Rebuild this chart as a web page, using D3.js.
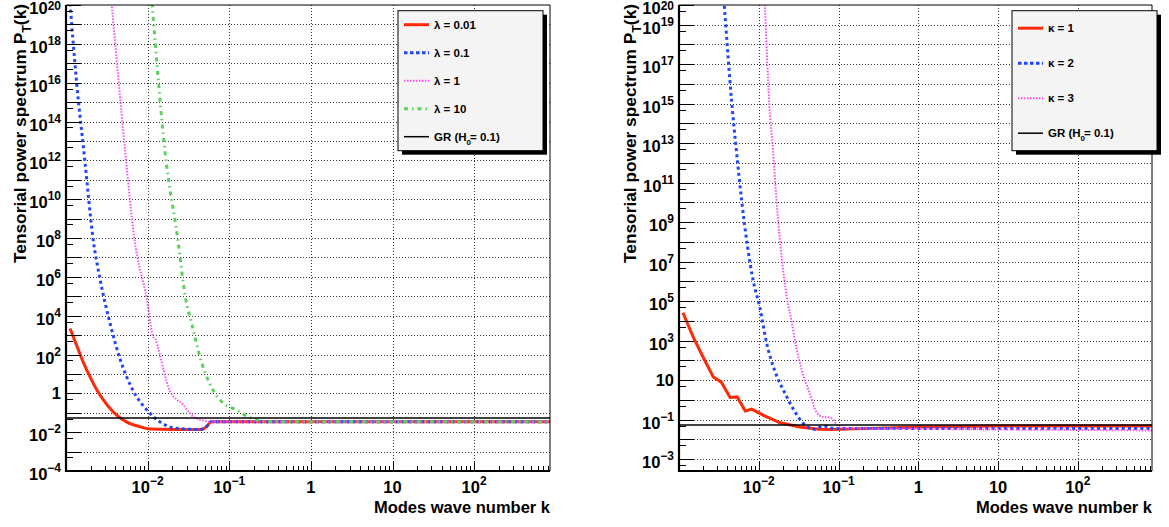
<!DOCTYPE html>
<html><head><meta charset="utf-8">
<script src="https://cdn.jsdelivr.net/npm/d3@7"></script>
<style>
body{margin:0;background:#fff;}
svg text{font-family:"Liberation Sans",Arial,Helvetica,sans-serif;font-weight:bold;fill:#000;}
.grid line{stroke:#333;stroke-width:1;stroke-dasharray:1,2;shape-rendering:crispEdges;}
.tk line{stroke:#000;stroke-width:1;shape-rendering:crispEdges;}
</style></head><body>
<svg id="c" width="1169" height="527"></svg>
<script>
// ---------- data ----------
const kMin = 1e-3, kMax = 850;
const grValue = 0.054;

// Left panel: lambda series
const kLam001 = [0.00112,0.00135,0.00162,0.00197,0.0024,0.00288,0.00347,0.00417,0.0055,0.0081,0.0107,0.02,0.046,0.053,0.06,0.1,1,10,100,850];
const pLam001 = [2200,300,42,7.1,1.45,0.45,0.166,0.076,0.034,0.019,0.0145,0.0138,0.0138,0.02,0.034,0.034,0.034,0.034,0.034,0.034];

const kLam01 = [0.00112,0.00135,0.0017,0.00214,0.00263,0.00347,0.00457,0.0066,0.0098,0.0141,0.0224,0.0437,0.053,0.06,0.1,1,10,100,850];
const pLam01 = [1.2e20,1e16,1e12,1e8,6.6e5,3900,62,1.45,0.138,0.034,0.0158,0.0138,0.02,0.034,0.034,0.034,0.034,0.034,0.034];

const kLam1 = [0.0034,0.00363,0.00527,0.00686,0.00973,0.0102,0.011,0.0117,0.0126,0.0135,0.0186,0.0275,0.0363,0.0479,0.06,0.1,1,10,100,850];
const pLam1 = [2e21,1e20,4e12,1e8,7.8e4,2.5e4,2500,800,560,200,1.45,0.245,0.062,0.04,0.034,0.034,0.034,0.034,0.034,0.034];

const kLam10 = [0.011,0.01138,0.0163,0.0233,0.0292,0.0347,0.0437,0.0575,0.0851,0.123,0.162,0.234,0.36,1,10,100,850];
const pLam10 = [6e20,1e20,3e12,1e8,7.8e4,3900,76,3.2,0.3,0.138,0.069,0.039,0.034,0.034,0.034,0.034,0.034];

// Right panel: kappa series
const kKap1 = [0.00112,0.00151,0.002,0.00269,0.00339,0.00437,0.00537,0.00676,0.00813,0.0115,0.0182,0.0324,0.0575,0.0776,0.158,0.4,1,10,100,850];
const pKap1 = [2.6e4,1510,148,14.5,7.9,1.32,1.41,0.275,0.339,0.166,0.071,0.0427,0.033,0.0316,0.034,0.038,0.0427,0.047,0.047,0.047];

const kKap2 = [0.0035,0.00369,0.00457,0.00525,0.0061,0.00851,0.0103,0.0126,0.0158,0.0214,0.0269,0.0363,0.0501,0.0646,0.079,0.1,1,10,100,850];
const pKap2 = [1.6e21,1e20,1.26e15,4e12,1.26e10,1.1e6,4.9e4,692,31,2.1,0.36,0.063,0.033,0.048,0.038,0.0355,0.0355,0.0355,0.0355,0.0355];

const kKap3 = [0.0113,0.0119,0.0135,0.0151,0.0167,0.0226,0.0257,0.0295,0.0347,0.0437,0.0525,0.0631,0.0794,0.102,0.158,1,10,100,850];
const pKap3 = [1e22,1e20,1.26e15,4e12,1.26e10,1.35e5,1.05e4,468,31,2.1,0.25,0.138,0.126,0.0427,0.0355,0.034,0.0316,0.030,0.0282];

// tick labels
const xTickValues = [1e-2,1e-1,1,10,100];
const xTickExps = [-2,-1,0,1,2];
const leftYLabelExps = [20,18,16,14,12,10,8,6,4,2,0,-2,-4];
const rightYLabelExps = [20,19,17,15,13,11,9,7,5,3,1,-1,-3];

const leftLegend = ["λ = 0.01","λ = 0.1","λ = 1","λ = 10"];
const rightLegend = ["κ = 1","κ = 2","κ = 3"];

// ---------- styles ----------
const styles = {
  red:{color:"#ff2a0a",w:3,dash:null,curve:true},
  blue:{color:"#1f45ff",w:3,dash:"3,3.2",curve:true},
  mag:{color:"#ff4cf0",w:2,dash:"1.5,1.5",curve:true},
  green:{color:"#5fcf5f",w:3,dash:"4,4,1.5,4",curve:true}
};

const svg = d3.select("#c");

function powLabel(g, xp, yp, exp, anchor){
  const t = g.append("text").attr("x",xp).attr("text-anchor",anchor).attr("font-size",16.5);
  if(exp===0){ t.attr("y",yp+6).text("1"); return; }
  if(exp===1){ t.attr("y",yp+6).text("10"); return; }
  const base = yp+9;
  // keep the superscript inside the picture for the topmost label
  const up = Math.min(8, base-10);
  t.attr("y",base).text("10");
  t.append("tspan").attr("dy",-up).attr("font-size",12).text(exp<0?"\u2212"+(-exp):String(exp));
}

function drawPanel(cfg){
  const {x0,x1,y0,y1,yMin,yMax} = cfg;
  const x = d3.scaleLog().domain([kMin,kMax]).range([x0,x1]);
  const y = d3.scaleLog().domain([yMin,yMax]).range([y1,y0]);
  const g = svg.append("g");
  const clipId = "clip"+cfg.id;
  g.append("clipPath").attr("id",clipId).append("rect")
    .attr("x",x0).attr("y",y0).attr("width",x1-x0).attr("height",y1-y0);

  const eMin = Math.ceil(Math.log10(yMin)), eMax = Math.floor(Math.log10(yMax));
  const yDec = d3.range(eMin,eMax+1).map(e=>Math.pow(10,e));
  const yFive = d3.range(eMin-1,eMax).map(e=>5*Math.pow(10,e)).filter(v=>v>yMin&&v<yMax);
  const xDec = [1e-2,1e-1,1,10,100];
  const xMinor = [];
  for(let e=-3;e<=2;e++) for(let m=2;m<=9;m++){const v=m*Math.pow(10,e); if(v<kMax) xMinor.push(v);}

  // grid
  g.append("g").attr("class","grid").attr("transform",`translate(0,${y1})`)
    .call(d3.axisBottom(x).tickValues(xDec).tickSize(-(y1-y0)).tickFormat(""))
    .call(s=>s.select(".domain").remove());
  g.append("g").attr("class","grid").attr("transform",`translate(${x0},0)`)
    .call(d3.axisLeft(y).tickValues(yDec.filter(v=>v<yMax*0.99)).tickSize(-(x1-x0)).tickFormat(""))
    .call(s=>s.select(".domain").remove());

  // series
  const plot = g.append("g").attr("clip-path",`url(#${clipId})`);
  cfg.series.forEach(s=>{
    const st = styles[s.style];
    const line = d3.line().x(d=>x(d[0])).y(d=>y(d[1]));
    if(st.curve && !s.linear) line.curve(d3.curveMonotoneX);
    plot.append("path").datum(d3.zip(s.k,s.p))
      .attr("d",line).attr("fill","none").attr("stroke",st.color)
      .attr("stroke-width",st.w).attr("stroke-dasharray",st.dash);
  });
  // GR
  plot.append("path").datum([[kMin,grValue],[kMax,grValue]])
    .attr("d",d3.line().x(d=>x(d[0])).y(d=>y(d[1])))
    .attr("stroke","#000").attr("stroke-width",1.5).attr("fill","none");

  // ticks
  const tk = (sel)=>sel.attr("class","tk");
  g.append("g").call(tk).attr("transform",`translate(${x0},0)`)
    .call(d3.axisLeft(y).tickValues(yDec).tickSize(-15).tickFormat(""))
    .call(s=>s.select(".domain").remove());
  g.append("g").call(tk).attr("transform",`translate(${x0},0)`)
    .call(d3.axisLeft(y).tickValues(yFive).tickSize(-7).tickFormat(""))
    .call(s=>s.select(".domain").remove());
  g.append("g").call(tk).attr("transform",`translate(0,${y1})`)
    .call(d3.axisBottom(x).tickValues(xDec).tickSize(-9).tickFormat(""))
    .call(s=>s.select(".domain").remove());
  g.append("g").call(tk).attr("transform",`translate(0,${y1})`)
    .call(d3.axisBottom(x).tickValues(xMinor).tickSize(-5).tickFormat(""))
    .call(s=>s.select(".domain").remove());

  // frame
  g.append("line").attr("x1",x0).attr("x2",x1).attr("y1",y0).attr("y2",y0).attr("stroke","#000").attr("stroke-width",1);
  g.append("line").attr("x1",x1).attr("x2",x1).attr("y1",y0).attr("y2",y1).attr("stroke","#000").attr("stroke-width",1);
  g.append("line").attr("x1",x0).attr("x2",x0).attr("y1",y0).attr("y2",y1+1).attr("stroke","#000").attr("stroke-width",2.2);
  g.append("line").attr("x1",x0-1).attr("x2",x1).attr("y1",y1).attr("y2",y1).attr("stroke","#000").attr("stroke-width",2.2);

  // labels
  cfg.yLabelExps.forEach(e=>powLabel(g,x0-5,y(Math.pow(10,e)),e,"end"));
  xTickValues.forEach((v,i)=>{
    const e = xTickExps[i];
    const t = g.append("text").attr("x",x(v)).attr("y",493).attr("text-anchor","middle").attr("font-size",16.5);
    if(e===0) t.text("1"); else if(e===1) t.text("10");
    else { t.text("10"); t.append("tspan").attr("dy",-8).attr("font-size",12).text(e<0?"\u2212"+(-e):String(e)); }
  });

  // titles
  g.append("text").attr("x",x1).attr("y",513).attr("text-anchor","end").attr("font-size",16.5).text("Modes wave number k");
  const yt = g.append("text").attr("transform",`translate(${cfg.titleX},4) rotate(-90)`)
    .attr("text-anchor","end").attr("font-size",17.3).text("Tensorial power spectrum P");
  yt.append("tspan").attr("dy",5).attr("font-size",12.5).text("T");
  yt.append("tspan").attr("dy",-5).text("(k)");

  // legend
  const [lx,ly,lw,lh] = cfg.legendBox;
  g.append("rect").attr("x",lx+4).attr("y",ly+4).attr("width",lw).attr("height",lh).attr("fill","#000");
  g.append("rect").attr("x",lx).attr("y",ly).attr("width",lw).attr("height",lh).attr("fill","#f4f4f4").attr("stroke","#000").attr("stroke-width",1);
  const entries = cfg.legend.map((lab,i)=>({lab,style:cfg.series[i].style})).concat([{lab:"GR",style:null}]);
  const n = entries.length;
  entries.forEach((en,i)=>{
    const ey = ly + (i+0.5)*lh/n;
    const st = en.style ? styles[en.style] : {color:"#000",w:1.5,dash:null};
    g.append("line").attr("x1",lx+6).attr("x2",lx+31).attr("y1",ey).attr("y2",ey)
      .attr("stroke",st.color).attr("stroke-width",st.w).attr("stroke-dasharray",st.dash ? (en.style==="blue"?"3.5,2.5":st.dash) : null);
    const t = g.append("text").attr("x",lx+36).attr("y",ey+4).attr("font-size",11.5);
    if(en.style) t.text(en.lab);
    else {
      t.text("GR (H");
      t.append("tspan").attr("dy",4).attr("font-size",8).text("0");
      t.append("tspan").attr("dy",-4).attr("dx",-1).text("= 0.1)");
    }
  });
}

drawPanel({id:"L",x0:66,x1:550,y0:5,y1:471,yMin:1e-4,yMax:1e20,titleX:26,
  yLabelExps:leftYLabelExps,legend:leftLegend,legendBox:[398,10.7,145,140],
  series:[
    {k:kLam001,p:pLam001,style:"red"},
    {k:kLam01,p:pLam01,style:"blue"},
    {k:kLam1,p:pLam1,style:"mag"},
    {k:kLam10,p:pLam10,style:"green"}
  ]});
drawPanel({id:"R",x0:679,x1:1152,y0:5,y1:471,yMin:2.5e-4,yMax:1e20,titleX:636,
  yLabelExps:rightYLabelExps,legend:rightLegend,legendBox:[1012,10.7,145,140],
  series:[
    {k:kKap1,p:pKap1,style:"red",linear:true},
    {k:kKap2,p:pKap2,style:"blue"},
    {k:kKap3,p:pKap3,style:"mag"}
  ]});
</script>
</body></html>
